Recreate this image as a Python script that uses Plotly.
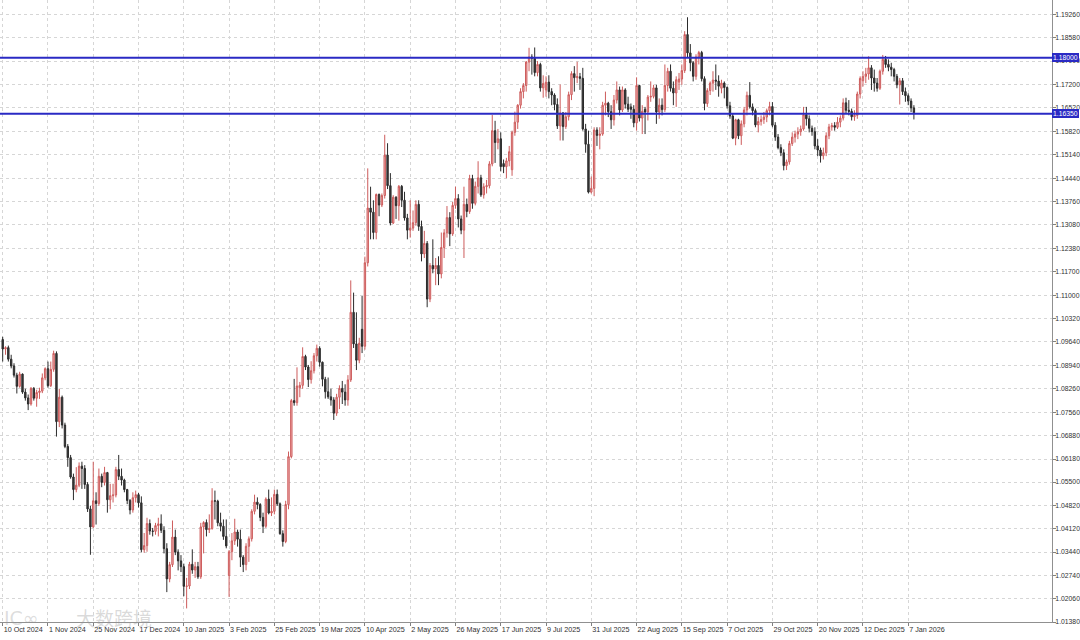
import plotly.graph_objects as go

# ---- data (EURUSD daily) ----
opens = [
    1.0970,1.0942,1.0946,1.0912,1.0892,1.0865,1.0832,1.0868,1.0815,1.0798,
    1.0780,1.0826,1.0797,1.0814,1.0818,1.0857,1.0884,1.0834,1.0882,1.0929,
    1.0728,1.0800,1.0718,1.0655,1.0622,1.0565,1.0528,1.0541,1.0597,1.0590,
    1.0543,1.0471,1.0418,1.0495,1.0487,1.0567,1.0549,1.0578,1.0498,1.0510,
    1.0512,1.0587,1.0567,1.0556,1.0528,1.0496,1.0468,1.0504,1.0513,1.0489,
    1.0351,1.0363,1.0428,1.0406,1.0405,1.0422,1.0427,1.0408,1.0354,1.0265,
    1.0307,1.0388,1.0344,1.0318,1.0301,1.0243,1.0244,1.0308,1.0291,1.0301,
    1.0271,1.0418,1.0431,1.0410,1.0413,1.0495,1.0494,1.0430,1.0420,1.0390,
    1.0275,1.0345,1.0377,1.0403,1.0382,1.0329,1.0307,1.0361,1.0383,1.0464,
    1.0491,1.0484,1.0446,1.0420,1.0500,1.0459,1.0464,1.0514,1.0486,1.0398,
    1.0375,1.0484,1.0625,1.0790,1.0784,1.0828,1.0835,1.0920,1.0889,1.0852,
    1.0878,1.0922,1.0944,1.0903,1.0853,1.0816,1.0801,1.0792,1.0753,1.0800,
    1.0826,1.0815,1.0792,1.0851,1.1050,1.0957,1.0909,1.1000,1.0950,1.1196,
    1.1357,1.1345,1.1285,1.1397,1.1366,1.1394,1.1513,1.1423,1.1313,1.1389,
    1.1364,1.1421,1.1380,1.1328,1.1292,1.1298,1.1314,1.1368,1.1303,1.1222,
    1.1253,1.1089,1.1188,1.1178,1.1188,1.1163,1.1241,1.1284,1.1329,1.1281,
    1.1365,1.1385,1.1325,1.1292,1.1368,1.1347,1.1444,1.1371,1.1421,1.1446,
    1.1396,1.1420,1.1423,1.1487,1.1585,1.1550,1.1561,1.1488,1.1479,1.1496,
    1.1470,1.1580,1.1610,1.1660,1.1700,1.1718,1.1787,1.1802,1.1798,1.1756,
    1.1780,1.1711,1.1705,1.1728,1.1700,1.1690,1.1662,1.1599,1.1637,1.1597,
    1.1626,1.1691,1.1753,1.1741,1.1744,1.1739,1.1590,1.1545,1.1404,1.1415,
    1.1587,1.1571,1.1575,1.1660,1.1666,1.1641,1.1617,1.1675,1.1705,1.1646,
    1.1705,1.1663,1.1655,1.1648,1.1608,1.1718,1.1622,1.1648,1.1640,1.1684,
    1.1686,1.1711,1.1640,1.1660,1.1647,1.1718,1.1760,1.1710,1.1696,1.1728,
    1.1737,1.1762,1.1868,1.1814,1.1785,1.1745,1.1802,1.1815,1.1738,1.1665,
    1.1703,1.1725,1.1734,1.1731,1.1710,1.1725,1.1712,1.1658,1.1628,1.1563,
    1.1617,1.1570,1.1605,1.1646,1.1689,1.1655,1.1644,1.1602,1.1612,1.1618,
    1.1625,1.1644,1.1656,1.1601,1.1566,1.1535,1.1520,1.1482,1.1493,1.1547,
    1.1566,1.1575,1.1582,1.1590,1.1632,1.1620,1.1592,1.1582,1.1540,1.1528,
    1.1511,1.1520,1.1570,1.1596,1.1600,1.1595,1.1610,1.1622,1.1667,1.1645,
    1.1642,1.1626,1.1630,1.1693,1.1732,1.1745,1.1752,1.1770,1.1740,1.1725,
    1.1710,1.1760,1.1795,1.1780,1.1772,1.1765,1.1745,1.1720,1.1732,1.1700,
    1.1688,1.1672,1.1652,
]
highs = [
    1.0978,1.0950,1.0952,1.0925,1.0900,1.0872,1.0875,1.0870,1.0825,1.0808,
    1.0830,1.0830,1.0822,1.0828,1.0870,1.0888,1.0905,1.0905,1.0937,1.0935,
    1.0825,1.0805,1.0725,1.0662,1.0630,1.0575,1.0594,1.0608,1.0610,1.0600,
    1.0550,1.0480,1.0610,1.0520,1.0590,1.0575,1.0595,1.0580,1.0545,1.0545,
    1.0595,1.0630,1.0590,1.0560,1.0530,1.0500,1.0520,1.0525,1.0518,1.0508,
    1.0400,1.0445,1.0440,1.0415,1.0430,1.0445,1.0455,1.0420,1.0370,1.0315,
    1.0437,1.0410,1.0352,1.0335,1.0310,1.0268,1.0315,1.0352,1.0315,1.0315,
    1.0430,1.0435,1.0440,1.0455,1.0532,1.0525,1.0498,1.0460,1.0440,1.0440,
    1.0350,1.0400,1.0442,1.0410,1.0410,1.0335,1.0370,1.0390,1.0470,1.0513,
    1.0505,1.0488,1.0460,1.0505,1.0528,1.0505,1.0528,1.0528,1.0490,1.0408,
    1.0495,1.0640,1.0795,1.0854,1.0888,1.0845,1.0947,1.0925,1.0895,1.0906,
    1.0930,1.0955,1.0950,1.0905,1.0860,1.0858,1.0825,1.0800,1.0810,1.0835,
    1.0848,1.0838,1.0865,1.1144,1.1108,1.1050,1.0975,1.1098,1.1214,1.1474,
    1.1420,1.1380,1.1400,1.1400,1.1400,1.1573,1.1548,1.1460,1.1395,1.1392,
    1.1425,1.1425,1.1405,1.1340,1.1380,1.1350,1.1380,1.1380,1.1320,1.1290,
    1.1260,1.1195,1.1265,1.1210,1.1215,1.1285,1.1295,1.1363,1.1345,1.1375,
    1.1420,1.1398,1.1335,1.1420,1.1385,1.1455,1.1455,1.1435,1.1495,1.1455,
    1.1430,1.1440,1.1495,1.1631,1.1614,1.1590,1.1580,1.1500,1.1505,1.1540,
    1.1585,1.1641,1.1663,1.1710,1.1725,1.1790,1.1829,1.1810,1.1830,1.1790,
    1.1785,1.1748,1.1745,1.1748,1.1710,1.1695,1.1680,1.1721,1.1640,1.1640,
    1.1700,1.1760,1.1775,1.1788,1.1755,1.1770,1.1605,1.1585,1.1450,1.1595,
    1.1595,1.1595,1.1670,1.1700,1.1670,1.1660,1.1690,1.1730,1.1715,1.1715,
    1.1710,1.1685,1.1665,1.1660,1.1742,1.1720,1.1660,1.1655,1.1690,1.1730,
    1.1720,1.1720,1.1680,1.1680,1.1780,1.1770,1.1780,1.1730,1.1745,1.1755,
    1.1780,1.1878,1.1919,1.1840,1.1790,1.1810,1.1820,1.1820,1.1745,1.1710,
    1.1730,1.1760,1.1780,1.1748,1.1735,1.1730,1.1715,1.1670,1.1635,1.1620,
    1.1620,1.1615,1.1655,1.1700,1.1728,1.1665,1.1650,1.1625,1.1630,1.1640,
    1.1650,1.1670,1.1669,1.1610,1.1575,1.1545,1.1530,1.1500,1.1555,1.1580,
    1.1585,1.1595,1.1600,1.1655,1.1655,1.1630,1.1600,1.1595,1.1560,1.1535,
    1.1535,1.1580,1.1605,1.1608,1.1610,1.1625,1.1630,1.1680,1.1682,1.1675,
    1.1650,1.1645,1.1700,1.1745,1.1760,1.1770,1.1804,1.1778,1.1765,1.1740,
    1.1765,1.1808,1.1805,1.1795,1.1785,1.1770,1.1752,1.1740,1.1740,1.1712,
    1.1695,1.1680,1.1660,
]
lows = [
    1.0905,1.0925,1.0905,1.0885,1.0858,1.0811,1.0828,1.0810,1.0790,1.0762,
    1.0775,1.0790,1.0772,1.0795,1.0812,1.0850,1.0828,1.0830,1.0875,1.0684,
    1.0712,1.0708,1.0650,1.0595,1.0560,1.0497,1.0520,1.0535,1.0530,1.0530,
    1.0462,1.0336,1.0415,1.0425,1.0480,1.0535,1.0540,1.0460,1.0470,1.0490,
    1.0505,1.0556,1.0540,1.0520,1.0485,1.0455,1.0460,1.0490,1.0475,1.0343,
    1.0342,1.0345,1.0395,1.0390,1.0395,1.0390,1.0400,1.0340,1.0226,1.0255,
    1.0300,1.0335,1.0290,1.0285,1.0214,1.0178,1.0235,1.0280,1.0268,1.0265,
    1.0265,1.0340,1.0390,1.0400,1.0410,1.0440,1.0420,1.0405,1.0380,1.0355,
    1.0212,1.0320,1.0365,1.0360,1.0300,1.0285,1.0290,1.0315,1.0375,1.0455,
    1.0470,1.0435,1.0400,1.0415,1.0455,1.0450,1.0455,1.0480,1.0395,1.0360,
    1.0370,1.0470,1.0620,1.0775,1.0775,1.0800,1.0825,1.0880,1.0830,1.0840,
    1.0870,1.0905,1.0890,1.0832,1.0796,1.0795,1.0775,1.0733,1.0745,1.0765,
    1.0780,1.0775,1.0775,1.0845,1.0945,1.0880,1.0900,1.0930,1.0940,1.1185,
    1.1265,1.1265,1.1265,1.1333,1.1360,1.1385,1.1413,1.1306,1.1310,1.1325,
    1.1320,1.1360,1.1320,1.1265,1.1270,1.1290,1.1305,1.1290,1.1200,1.1210,
    1.1065,1.1080,1.1165,1.1130,1.1130,1.1150,1.1210,1.1270,1.1245,1.1275,
    1.1355,1.1300,1.1280,1.1210,1.1330,1.1340,1.1355,1.1365,1.1400,1.1390,
    1.1385,1.1400,1.1415,1.1480,1.1490,1.1530,1.1465,1.1460,1.1445,1.1480,
    1.1452,1.1570,1.1590,1.1650,1.1680,1.1700,1.1760,1.1750,1.1745,1.1745,
    1.1700,1.1682,1.1685,1.1680,1.1660,1.1645,1.1590,1.1556,1.1556,1.1590,
    1.1615,1.1675,1.1700,1.1725,1.1705,1.1585,1.1520,1.1400,1.1400,1.1392,
    1.1540,1.1530,1.1570,1.1630,1.1625,1.1590,1.1600,1.1665,1.1630,1.1640,
    1.1650,1.1640,1.1620,1.1595,1.1585,1.1612,1.1575,1.1575,1.1615,1.1670,
    1.1680,1.1605,1.1620,1.1630,1.1640,1.1700,1.1700,1.1660,1.1655,1.1705,
    1.1720,1.1755,1.1800,1.1760,1.1730,1.1735,1.1780,1.1730,1.1645,1.1655,
    1.1690,1.1700,1.1705,1.1685,1.1695,1.1680,1.1650,1.1620,1.1560,1.1542,
    1.1560,1.1543,1.1595,1.1630,1.1650,1.1630,1.1595,1.1580,1.1600,1.1605,
    1.1610,1.1630,1.1595,1.1555,1.1530,1.1510,1.1468,1.1469,1.1485,1.1540,
    1.1550,1.1560,1.1570,1.1585,1.1600,1.1580,1.1570,1.1530,1.1510,1.1491,
    1.1500,1.1510,1.1560,1.1585,1.1585,1.1590,1.1595,1.1615,1.1635,1.1630,
    1.1615,1.1614,1.1620,1.1680,1.1715,1.1725,1.1735,1.1705,1.1700,1.1700,
    1.1705,1.1750,1.1770,1.1760,1.1745,1.1730,1.1710,1.1662,1.1690,1.1670,
    1.1660,1.1640,1.1618,
]
closes = [
    1.0942,1.0946,1.0912,1.0892,1.0865,1.0832,1.0868,1.0815,1.0798,1.0780,
    1.0826,1.0797,1.0814,1.0818,1.0857,1.0884,1.0834,1.0882,1.0929,1.0728,
    1.0800,1.0718,1.0655,1.0622,1.0565,1.0528,1.0541,1.0597,1.0590,1.0543,
    1.0471,1.0418,1.0495,1.0487,1.0567,1.0549,1.0578,1.0498,1.0510,1.0512,
    1.0587,1.0567,1.0556,1.0528,1.0496,1.0468,1.0504,1.0513,1.0489,1.0351,
    1.0363,1.0428,1.0406,1.0405,1.0422,1.0427,1.0408,1.0354,1.0265,1.0307,
    1.0388,1.0344,1.0318,1.0301,1.0243,1.0244,1.0308,1.0291,1.0301,1.0271,
    1.0418,1.0431,1.0410,1.0413,1.0495,1.0494,1.0430,1.0420,1.0390,1.0362,
    1.0345,1.0377,1.0403,1.0382,1.0329,1.0307,1.0361,1.0383,1.0464,1.0491,
    1.0484,1.0446,1.0420,1.0500,1.0459,1.0464,1.0514,1.0486,1.0398,1.0375,
    1.0484,1.0625,1.0790,1.0784,1.0833,1.0835,1.0920,1.0889,1.0852,1.0878,
    1.0922,1.0944,1.0903,1.0853,1.0816,1.0801,1.0792,1.0753,1.0800,1.0826,
    1.0815,1.0792,1.0851,1.1050,1.0957,1.0909,1.0959,1.0950,1.1196,1.1357,
    1.1345,1.1285,1.1397,1.1366,1.1394,1.1513,1.1423,1.1313,1.1389,1.1364,
    1.1421,1.1380,1.1328,1.1292,1.1298,1.1314,1.1368,1.1303,1.1222,1.1253,
    1.1089,1.1188,1.1178,1.1188,1.1163,1.1241,1.1284,1.1329,1.1281,1.1365,
    1.1385,1.1325,1.1292,1.1368,1.1347,1.1444,1.1371,1.1421,1.1446,1.1396,
    1.1420,1.1423,1.1487,1.1585,1.1550,1.1561,1.1479,1.1479,1.1496,1.1523,
    1.1580,1.1610,1.1660,1.1700,1.1718,1.1787,1.1802,1.1798,1.1756,1.1780,
    1.1711,1.1724,1.1728,1.1700,1.1690,1.1662,1.1599,1.1637,1.1597,1.1626,
    1.1691,1.1753,1.1741,1.1744,1.1739,1.1590,1.1545,1.1404,1.1415,1.1587,
    1.1571,1.1575,1.1660,1.1666,1.1641,1.1617,1.1675,1.1705,1.1646,1.1705,
    1.1663,1.1648,1.1648,1.1608,1.1718,1.1622,1.1642,1.1640,1.1684,1.1686,
    1.1711,1.1640,1.1660,1.1647,1.1718,1.1760,1.1710,1.1696,1.1735,1.1737,
    1.1762,1.1868,1.1814,1.1785,1.1745,1.1802,1.1815,1.1738,1.1665,1.1703,
    1.1725,1.1734,1.1731,1.1716,1.1725,1.1712,1.1658,1.1628,1.1563,1.1617,
    1.1570,1.1605,1.1646,1.1689,1.1655,1.1644,1.1602,1.1612,1.1618,1.1625,
    1.1644,1.1656,1.1601,1.1566,1.1535,1.1520,1.1482,1.1493,1.1547,1.1566,
    1.1575,1.1582,1.1590,1.1632,1.1620,1.1592,1.1582,1.1540,1.1528,1.1511,
    1.1520,1.1570,1.1596,1.1600,1.1595,1.1610,1.1622,1.1667,1.1645,1.1642,
    1.1626,1.1630,1.1693,1.1739,1.1745,1.1752,1.1770,1.1740,1.1725,1.1710,
    1.1760,1.1795,1.1780,1.1772,1.1765,1.1745,1.1720,1.1732,1.1700,1.1688,
    1.1672,1.1652,1.1638,
]

date_labels = ["10 Oct 2024", "1 Nov 2024", "25 Nov 2024", "17 Dec 2024", "10 Jan 2025",
               "3 Feb 2025", "25 Feb 2025", "19 Mar 2025", "10 Apr 2025", "2 May 2025",
               "26 May 2025", "17 Jun 2025", "9 Jul 2025", "31 Jul 2025", "22 Aug 2025",
               "15 Sep 2025", "7 Oct 2025", "29 Oct 2025", "20 Nov 2025", "12 Dec 2025",
               "7 Jan 2026"]
date_label_bars = [0, 16, 32, 48, 64, 80, 96, 112, 128, 144, 160, 176, 192, 208, 224,
                   240, 256, 272, 288, 304, 320]

price_ticks = [1.01380, 1.02060, 1.02740, 1.03440, 1.04120, 1.04820, 1.05500, 1.06180,
               1.06880, 1.07560, 1.08260, 1.08940, 1.09640, 1.10320, 1.11000, 1.11700,
               1.12380, 1.13080, 1.13760, 1.14440, 1.15140, 1.15820, 1.16520, 1.17200,
               1.17900, 1.18580, 1.19260]

level_lines = [1.18000, 1.16350]

n = len(closes)
assert len(opens) == n and len(highs) == n and len(lows) == n
bars = list(range(n))

FONT = "Liberation Sans"
BLUE = "#2a2ac4"

fig = go.Figure()
fig.add_trace(go.Candlestick(
    x=bars, open=opens, high=highs, low=lows, close=closes,
    increasing=dict(line=dict(color="#cd5c5c", width=1), fillcolor="#f2b8b8"),
    decreasing=dict(line=dict(color="#2b2b2b", width=1), fillcolor="#3c3c3c"),
    whiskerwidth=0,
    showlegend=False,
    hoverinfo="skip",
))

for lv in level_lines:
    fig.add_shape(type="line", xref="paper", x0=0, x1=1, yref="y", y0=lv, y1=lv,
                  line=dict(color=BLUE, width=2), layer="above")
    fig.add_annotation(xref="paper", x=1, xanchor="left", xshift=0,
                       yref="y", y=lv, yanchor="middle",
                       text=f"{lv:.5f}", showarrow=False,
                       font=dict(family=FONT, size=6.8, color="white"),
                       bgcolor=BLUE, bordercolor=BLUE, borderwidth=1, borderpad=0)

# watermark
fig.add_annotation(xref="paper", x=0.002, xanchor="left", yref="paper", y=0.0065,
                   yanchor="middle", text="IC∞", showarrow=False,
                   font=dict(family="DejaVu Sans", size=19, color="rgba(150,150,150,0.33)"))
fig.add_annotation(xref="paper", x=0.07, xanchor="left", yref="paper", y=0.0065,
                   yanchor="middle", text="大数跨境", showarrow=False,
                   font=dict(family="Noto Sans CJK SC", size=19, color="rgba(150,150,150,0.36)"))

fig.update_layout(
    width=1080, height=640,
    margin=dict(l=0, r=28, t=0, b=18),
    paper_bgcolor="white", plot_bgcolor="white",
    font=dict(family=FONT, size=7, color="#303030"),
    showlegend=False,
    xaxis=dict(
        range=[-0.95, 370.8], rangeslider=dict(visible=False),
        tickmode="array", tickvals=date_label_bars, ticktext=date_labels,
        ticklabelposition="outside right", tickangle=0,
        ticks="outside", ticklen=3, tickcolor="#808080",
        showgrid=True, gridcolor="#d6d6d6", griddash="3px,3px", gridwidth=1,
        showline=True, linecolor="#909090", linewidth=1,
        zeroline=False, automargin=False,
        tickfont=dict(family=FONT, size=7.2, color="#303030"),
    ),
    yaxis=dict(
        side="right", range=[1.01380, 1.19698],
        tickmode="array", tickvals=price_ticks,
        ticktext=[f"{t:.5f}" for t in price_ticks],
        ticks="outside", ticklen=3, tickcolor="#808080",
        ticklabelstandoff=-2,
        showgrid=True, gridcolor="#d6d6d6", griddash="3px,3px", gridwidth=1,
        showline=True, linecolor="#909090", linewidth=1,
        zeroline=False, automargin=False,
        tickfont=dict(family=FONT, size=6.8, color="#303030"),
    ),
)

fig.write_html(
    "out.html",
    config={"displayModeBar": False},
    post_script="document.body.style.margin='0px';document.body.style.overflow='hidden';"
                "document.documentElement.style.overflow='hidden';window.dispatchEvent(new Event('resize'));",
)
